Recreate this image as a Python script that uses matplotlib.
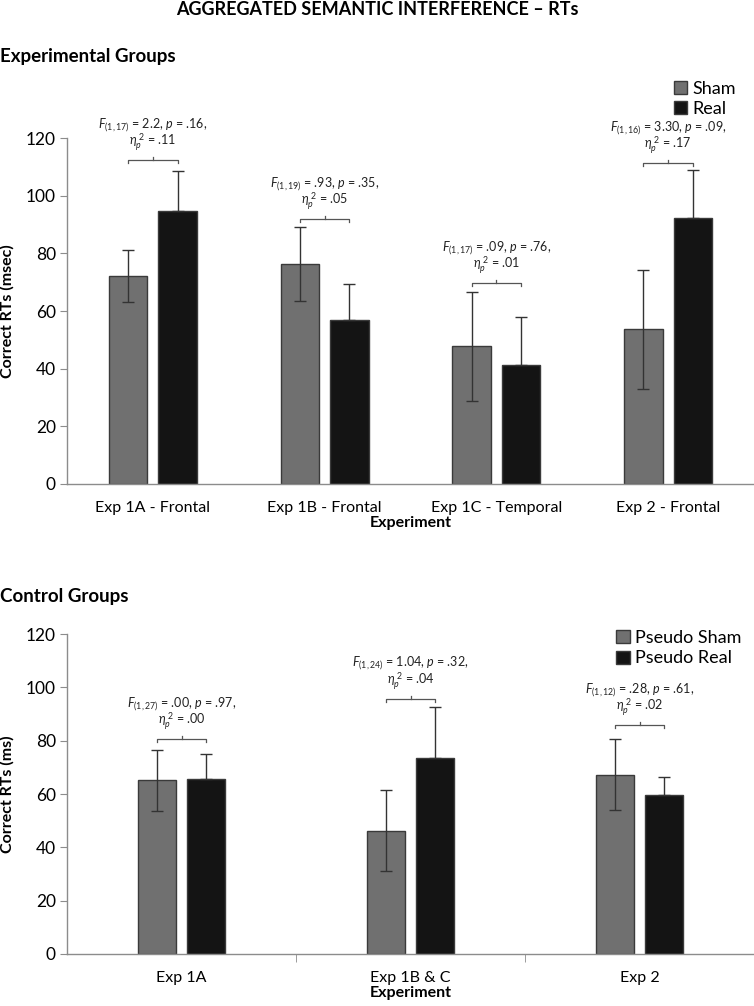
import numpy as np
import matplotlib
matplotlib.use("Agg")
import matplotlib.pyplot as plt

plt.rcParams["font.family"] = ["Lato", "DejaVu Sans"]
plt.rcParams["mathtext.fontset"] = "custom"
plt.rcParams["mathtext.rm"] = "Lato"
plt.rcParams["mathtext.it"] = "Lato:italic"
plt.rcParams["mathtext.bf"] = "Lato:bold"

# Experimental groups
exp_labels = ["Exp 1A - Frontal", "Exp 1B - Frontal", "Exp 1C - Temporal", "Exp 2 - Frontal"]
exp_sham = [72.1, 76.3, 47.7, 53.7]
exp_sham_err = [9.0, 12.9, 19.0, 20.6]
exp_real = [94.8, 56.9, 41.4, 92.2]
exp_real_err = [13.8, 12.4, 16.5, 16.6]
exp_stats = [("(1,17)", "2.2", ".16", ".11"),
             ("(1,19)", ".93", ".35", ".05"),
             ("(1,17)", ".09", ".76", ".01"),
             ("(1,16)", "3.30", ".09", ".17")]
exp_bracket = [112.4, 92.0, 69.8, 111.4]

# Control groups
ctl_labels = ["Exp 1A", "Exp 1B & C", "Exp 2"]
ctl_sham = [65.2, 46.3, 67.3]
ctl_sham_err = [11.5, 15.3, 13.4]
ctl_real = [65.7, 73.5, 59.5]
ctl_real_err = [9.3, 19.1, 6.8]
ctl_stats = [("(1,27)", ".00", ".97", ".00"),
             ("(1,24)", "1.04", ".32", ".04"),
             ("(1,12)", ".28", ".61", ".02")]
ctl_bracket = [80.5, 95.8, 86.0]

SHAM_C = "#707070"
REAL_C = "#141414"
EDGE_C = "#3a3a3a"
AXIS_C = "#8c8c8c"


def draw_panel(ax, labels, sham, sham_err, real, real_err, stats, bracket,
               off, width, names, ylab, boundary_ticks, px_unit):
    x = np.arange(len(labels))
    ekw = dict(ecolor="#333333", elinewidth=1.0, capsize=4, capthick=1.0)
    ax.bar(x - off, sham, width, yerr=sham_err, color=SHAM_C, edgecolor=EDGE_C,
           linewidth=1.0, error_kw=ekw, label=names[0], zorder=2)
    # lower half of the real error bar disappears in the black bar
    real_yerr = [np.zeros(len(real_err)), real_err]
    ax.bar(x + off, real, width, yerr=real_yerr, color=REAL_C, edgecolor=EDGE_C,
           linewidth=1.0, error_kw=ekw, label=names[1], zorder=2)
    ax.set_xlim(-0.5, len(labels) - 0.5)
    ax.set_ylim(0, 120)
    ax.set_yticks(np.arange(0, 121, 20))
    ax.set_xticks(x)
    ax.set_xticklabels(labels, fontsize=11.5)
    ax.tick_params(axis="x", length=0, pad=12)
    ax.tick_params(axis="y", labelsize=12.5, length=5, color=AXIS_C, pad=3)
    if boundary_ticks:
        ax.set_xticks(np.arange(0.5, len(labels) - 0.5, 1.0), minor=True)
        ax.tick_params(axis="x", which="minor", length=6, color=AXIS_C)
    for s in ["top", "right"]:
        ax.spines[s].set_visible(False)
    for s in ["left", "bottom"]:
        ax.spines[s].set_color(AXIS_C)
        ax.spines[s].set_linewidth(1.0)
    ax.set_xlabel("Experiment", fontsize=11.5, fontweight="bold", labelpad=1)
    ax.set_ylabel(ylab, fontsize=11.5, fontweight="bold")
    ax.yaxis.set_label_coords(-0.077, 0.5)

    # significance brackets with stats text (offsets in pixels -> data units)
    d = 3.0 / px_unit
    for i, (df, fv, pv, eta) in enumerate(stats):
        y = bracket[i]
        x0, x1 = i - off, i + off
        ax.plot([x0, x0, x1, x1], [y - d, y, y, y - d], color="#555555", lw=0.9, zorder=3)
        ax.plot([i, i], [y, y + d], color="#555555", lw=0.9, zorder=3)
        ax.text(i, y + 18.0 / px_unit, r"$\eta_p^{\ 2}$ = " + eta, ha="center", va="center",
                fontsize=9, color="#222222")
        ax.text(i, y + 35.0 / px_unit, r"$F_{" + df + r"}$ = " + fv + r", $p$ = " + pv + ",",
                ha="center", va="center", fontsize=9, color="#222222")


fig = plt.figure(figsize=(7.54, 10.06), dpi=100)
fig.text(0.5, 0.991, "AGGREGATED SEMANTIC INTERFERENCE \u2013 RTs", ha="center", va="center",
         fontsize=13, fontweight="bold")

ax1 = fig.add_axes([0.0889, 0.5189, 0.9111, 0.3439])
draw_panel(ax1, exp_labels, exp_sham, exp_sham_err, exp_real, exp_real_err,
           exp_stats, exp_bracket, 0.144, 0.225, ["Sham", "Real"],
           "Correct RTs (msec)", False, 346 / 120)
fig.text(0.0, 0.944, "Experimental Groups", ha="left", va="center", fontsize=13.5,
         fontweight="bold")
ax1.legend(loc="upper right", bbox_to_anchor=(0.985, 0.927), bbox_transform=fig.transFigure,
           frameon=False, fontsize=13, handlelength=0.75, handleheight=0.75,
           handletextpad=0.25, labelspacing=0.25, borderaxespad=0)

ax2 = fig.add_axes([0.0889, 0.0517, 0.9111, 0.318])
draw_panel(ax2, ctl_labels, ctl_sham, ctl_sham_err, ctl_real, ctl_real_err,
           ctl_stats, ctl_bracket, 0.109, 0.166, ["Pseudo Sham", "Pseudo Real"],
           "Correct RTs (ms)", True, 320 / 120)
fig.text(0.0, 0.4066, "Control Groups", ha="left", va="center", fontsize=13.5,
         fontweight="bold")
ax2.legend(loc="upper right", bbox_to_anchor=(0.993, 0.381), bbox_transform=fig.transFigure,
           frameon=False, fontsize=13, handlelength=0.75, handleheight=0.75,
           handletextpad=0.3, labelspacing=0.25, borderaxespad=0)

fig.savefig("out.png", dpi=100)
